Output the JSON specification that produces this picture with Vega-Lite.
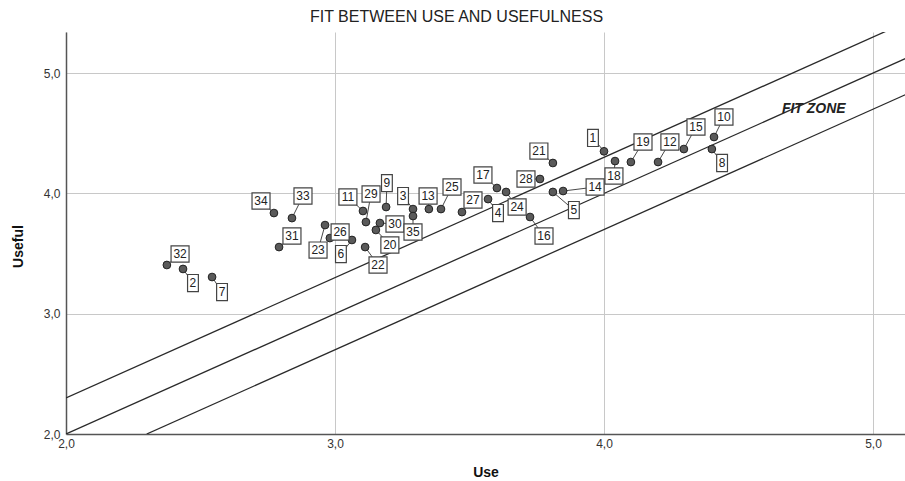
{
  "$schema": "https://vega.github.io/schema/vega-lite/v6.json",
  "width": 839,
  "height": 402,
  "autosize": {"type": "none"},
  "padding": {"left": 66, "top": 32, "right": 0, "bottom": 47},
  "background": "white",
  "title": {
    "text": "FIT BETWEEN USE AND USEFULNESS",
    "font": "Liberation Sans",
    "fontSize": 16,
    "fontWeight": "normal",
    "color": "#222222",
    "anchor": "middle",
    "dx": -29,
    "offset": 7
  },
  "config": {
    "view": {"stroke": null},
    "font": "Liberation Sans",
    "axis": {
      "grid": true,
      "gridColor": "#c8c8c8",
      "gridWidth": 1,
      "domainColor": "#555555",
      "domainWidth": 1.5,
      "ticks": false,
      "labelFont": "Liberation Sans",
      "labelFontSize": 12,
      "labelColor": "#333333",
      "labelFlush": false,
      "titleFont": "Liberation Sans",
      "titleFontSize": 14,
      "titleFontWeight": "bold",
      "titleColor": "#111111"
    },
    "axisX": {"labelPadding": 4, "titlePadding": 16},
    "axisY": {"labelPadding": 6, "titlePadding": 18, "titleY": 214}
  },
  "datasets": {
    "pts": [
      {"id": "1", "use": 4.00, "useful": 4.35, "lx": 3.959, "ly": 4.461},
      {"id": "2", "use": 2.435, "useful": 3.372, "lx": 2.472, "ly": 3.255},
      {"id": "3", "use": 3.29, "useful": 3.87, "lx": 3.253, "ly": 3.978},
      {"id": "4", "use": 3.569, "useful": 3.953, "lx": 3.606, "ly": 3.837},
      {"id": "5", "use": 3.81, "useful": 4.012, "lx": 3.888, "ly": 3.862},
      {"id": "6", "use": 3.063, "useful": 3.613, "lx": 3.022, "ly": 3.496},
      {"id": "7", "use": 2.543, "useful": 3.305, "lx": 2.58, "ly": 3.18},
      {"id": "8", "use": 4.401, "useful": 4.369, "lx": 4.439, "ly": 4.253},
      {"id": "9", "use": 3.19, "useful": 3.887, "lx": 3.193, "ly": 4.086},
      {"id": "10", "use": 4.409, "useful": 4.469, "lx": 4.446, "ly": 4.635},
      {"id": "11", "use": 3.104, "useful": 3.854, "lx": 3.048, "ly": 3.97},
      {"id": "12", "use": 4.201, "useful": 4.261, "lx": 4.245, "ly": 4.427},
      {"id": "13", "use": 3.349, "useful": 3.87, "lx": 3.346, "ly": 3.978},
      {"id": "14", "use": 3.848, "useful": 4.02, "lx": 3.967, "ly": 4.053},
      {"id": "15", "use": 4.297, "useful": 4.369, "lx": 4.342, "ly": 4.552},
      {"id": "16", "use": 3.725, "useful": 3.804, "lx": 3.777, "ly": 3.646},
      {"id": "17", "use": 3.602, "useful": 4.045, "lx": 3.55, "ly": 4.153},
      {"id": "18", "use": 4.041, "useful": 4.269, "lx": 4.037, "ly": 4.145},
      {"id": "19", "use": 4.10, "useful": 4.261, "lx": 4.145, "ly": 4.427},
      {"id": "20", "use": 3.152, "useful": 3.696, "lx": 3.204, "ly": 3.571},
      {"id": "21", "use": 3.81, "useful": 4.253, "lx": 3.758, "ly": 4.352},
      {"id": "22", "use": 3.112, "useful": 3.554, "lx": 3.16, "ly": 3.405},
      {"id": "23", "use": 2.963, "useful": 3.737, "lx": 2.937, "ly": 3.529},
      {"id": "24", "use": 3.636, "useful": 4.012, "lx": 3.677, "ly": 3.887},
      {"id": "25", "use": 3.394, "useful": 3.87, "lx": 3.435, "ly": 4.053},
      {"id": "26", "use": 2.981, "useful": 3.629, "lx": 3.019, "ly": 3.679},
      {"id": "27", "use": 3.472, "useful": 3.845, "lx": 3.513, "ly": 3.945},
      {"id": "28", "use": 3.762, "useful": 4.12, "lx": 3.71, "ly": 4.12},
      {"id": "29", "use": 3.115, "useful": 3.762, "lx": 3.134, "ly": 3.995},
      {"id": "30", "use": 3.167, "useful": 3.754, "lx": 3.223, "ly": 3.746},
      {"id": "31", "use": 2.792, "useful": 3.554, "lx": 2.84, "ly": 3.646},
      {"id": "32", "use": 2.375, "useful": 3.405, "lx": 2.424, "ly": 3.496},
      {"id": "33", "use": 2.84, "useful": 3.795, "lx": 2.881, "ly": 3.978},
      {"id": "34", "use": 2.773, "useful": 3.837, "lx": 2.725, "ly": 3.937},
      {"id": "35", "use": 3.29, "useful": 3.812, "lx": 3.29, "ly": 3.679}
    ],
    "diag": [
      {"line": "upper", "x": 2.0, "y": 2.3},
      {"line": "upper", "x": 5.3, "y": 5.6},
      {"line": "mid", "x": 2.0, "y": 2.0},
      {"line": "mid", "x": 5.3, "y": 5.3},
      {"line": "lower", "x": 2.3, "y": 2.0},
      {"line": "lower", "x": 5.3, "y": 5.0}
    ],
    "note": [
      {"x": 4.78, "y": 4.7, "text": "FIT ZONE"}
    ]
  },
  "layer": [
    {
      "data": {"name": "diag"},
      "mark": {"type": "line", "clip": true, "color": "#2a2a2a", "strokeWidth": 1.3},
      "encoding": {
        "x": {
          "field": "x", "type": "quantitative", "title": "Use",
          "scale": {"domain": [2, 5.119], "nice": false, "zero": false},
          "axis": {"values": [2, 3, 4, 5], "labelExpr": "replace(format(datum.value, '.1f'), '.', ',')"}
        },
        "y": {
          "field": "y", "type": "quantitative", "title": "Useful",
          "scale": {"domain": [2, 5.342], "nice": false, "zero": false},
          "axis": {"values": [2, 3, 4, 5], "labelExpr": "replace(format(datum.value, '.1f'), '.', ',')"}
        },
        "detail": {"field": "line"}
      }
    },
    {
      "data": {"name": "pts"},
      "mark": {"type": "rule", "color": "#333333", "strokeWidth": 0.9},
      "encoding": {
        "x": {"field": "use", "type": "quantitative", "title": "Use"},
        "y": {"field": "useful", "type": "quantitative", "title": "Useful"},
        "x2": {"field": "lx"},
        "y2": {"field": "ly"}
      }
    },
    {
      "data": {"name": "pts"},
      "mark": {"type": "point", "shape": "circle", "filled": true, "fill": "#5a5a5a", "stroke": "#222222", "strokeWidth": 1, "size": 60, "opacity": 1},
      "encoding": {
        "x": {"field": "use", "type": "quantitative", "title": "Use"},
        "y": {"field": "useful", "type": "quantitative", "title": "Useful"}
      }
    },
    {
      "data": {"name": "pts"},
      "mark": {"type": "point", "filled": true, "fill": "white", "stroke": "#444444", "strokeWidth": 1.2, "size": 324, "opacity": 1},
      "encoding": {
        "x": {"field": "lx", "type": "quantitative", "title": "Use"},
        "y": {"field": "ly", "type": "quantitative", "title": "Useful"},
        "shape": {
          "condition": {"test": "length(datum.id) > 1", "value": "M-1,-0.9H1V0.9H-1Z"},
          "value": "M-0.6,-0.95H0.6V0.95H-0.6Z"
        }
      }
    },
    {
      "data": {"name": "pts"},
      "mark": {"type": "text", "font": "Liberation Sans", "fontSize": 12, "color": "#222222", "align": "center", "baseline": "middle"},
      "encoding": {
        "x": {"field": "lx", "type": "quantitative", "title": "Use"},
        "y": {"field": "ly", "type": "quantitative", "title": "Useful"},
        "text": {"field": "id"}
      }
    },
    {
      "data": {"name": "note"},
      "mark": {"type": "text", "font": "Liberation Sans", "fontSize": 14, "fontWeight": "bold", "fontStyle": "italic", "color": "#222222", "align": "center", "baseline": "middle"},
      "encoding": {
        "x": {"field": "x", "type": "quantitative", "title": "Use"},
        "y": {"field": "y", "type": "quantitative", "title": "Useful"},
        "text": {"field": "text"}
      }
    }
  ]
}
